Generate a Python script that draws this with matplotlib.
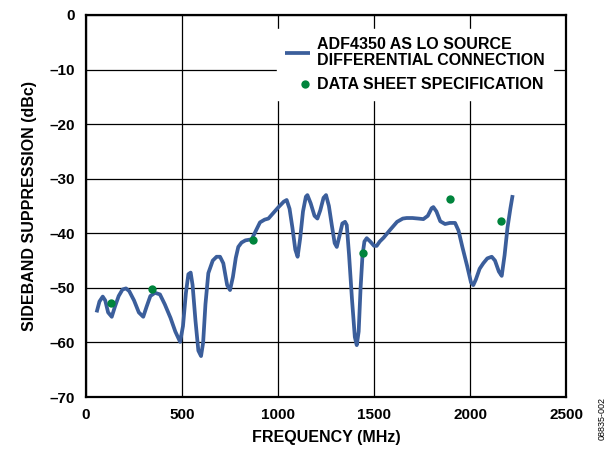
import matplotlib
matplotlib.use('Agg')
import matplotlib.pyplot as plt
from matplotlib.legend_handler import HandlerLine2D

plt.rcParams['font.family'] = ['Liberation Sans', 'DejaVu Sans']
plt.rcParams['font.weight'] = 'bold'
plt.rcParams['axes.labelweight'] = 'bold'

# ADF4350 as LO source, differential connection
freq = [55, 70, 87, 100, 115, 134, 150, 170, 190, 208, 225, 250, 275, 298,
        315, 335, 359, 385, 410, 440, 465, 490, 505, 520, 533, 545, 555, 570,
        585, 599, 610, 622, 637, 660, 680, 698, 715, 735, 750, 765, 780, 793,
        810, 830, 863, 885, 906, 930, 950, 975, 1000, 1030, 1045, 1060, 1075,
        1090, 1102, 1115, 1130, 1145, 1153, 1170, 1190, 1205, 1220, 1237, 1250,
        1265, 1280, 1295, 1306, 1320, 1335, 1349, 1358, 1370, 1385, 1400, 1410,
        1420, 1430, 1440, 1450, 1462, 1480, 1500, 1514, 1530, 1550, 1583, 1620,
        1650, 1670, 1700, 1730, 1757, 1780, 1800, 1809, 1825, 1845, 1870, 1895,
        1922, 1940, 1960, 1985, 2005, 2017, 2030, 2050, 2069, 2090, 2113, 2130,
        2150, 2165, 2180, 2195, 2210, 2222]
suppression = [-54.5, -52.5, -51.6, -52.3, -54.5, -55.3, -53.5, -51.5, -50.3,
               -50.1, -50.6, -52.3, -54.5, -55.3, -53.5, -51.5, -50.9, -51.2,
               -53.0, -55.5, -58.0, -59.9, -57.0, -51.0, -47.5, -47.2, -49.5,
               -56.0, -61.5, -62.5, -60.0, -53.0, -47.3, -45.0, -44.3, -44.3,
               -45.5, -49.5, -50.4, -48.0, -44.5, -42.5, -41.7, -41.3, -41.1,
               -39.5, -38.0, -37.5, -37.3, -36.3, -35.3, -34.2, -33.9, -35.5,
               -39.0, -43.0, -44.3, -41.0, -36.0, -33.3, -33.0, -34.5, -36.8,
               -37.3, -35.8, -33.5, -33.0, -35.0, -38.5, -41.8, -42.5, -40.5,
               -38.2, -37.9, -38.5, -44.0, -52.0, -59.0, -60.5, -58.0, -50.0,
               -44.0, -41.5, -40.9, -41.5, -42.3, -42.3, -41.5, -40.8, -39.4,
               -37.9, -37.3, -37.2, -37.2, -37.3, -37.4, -36.8, -35.4, -35.2,
               -36.0, -37.8, -38.3, -38.1, -38.1, -39.5, -42.5, -46.0, -49.0,
               -49.5, -48.5, -46.5, -45.5, -44.6, -44.3, -45.0, -47.0, -47.8,
               -44.0, -39.0, -35.5, -33.0]

# data sheet specification points
spec_freq = [129, 346, 868, 1444, 1896, 2160]
spec_val = [-52.7, -50.3, -41.2, -43.6, -33.8, -37.7]

x_ticks = [0, 500, 1000, 1500, 2000, 2500]
y_ticks = [0, -10, -20, -30, -40, -50, -60, -70]


class RightDot(HandlerLine2D):
    '''Puts the legend marker at the right end of the handle box.'''
    def get_xdata(self, legend, xdescent, ydescent, width, height, fontsize):
        x = -xdescent + width - 0.3 * fontsize
        return [x], [x]


def main():
    fig = plt.figure(figsize=(6.11, 4.49), dpi=100)
    ax = fig.add_axes([0.1408, 0.1158, 0.7856, 0.8508])

    ax.plot(freq, suppression, color='#3b5e9b', lw=2.7,
            solid_joinstyle='round', solid_capstyle='butt',
            label='ADF4350 AS LO SOURCE\nDIFFERENTIAL CONNECTION', zorder=3)
    dots, = ax.plot(spec_freq, spec_val, 'o', color='#00843c', ms=6,
                    mec='none', label='DATA SHEET SPECIFICATION', zorder=4)

    ax.set_xlim(0, 2500)
    ax.set_ylim(-70, 0)
    ax.set_xticks(x_ticks)
    ax.set_yticks(y_ticks)
    ax.set_yticklabels([str(v).replace('-', '\u2013') for v in y_ticks])
    ax.tick_params(length=0, labelsize=11, pad=8)
    ax.grid(True, color='black', lw=0.9)
    ax.set_axisbelow(True)
    for s in ax.spines.values():
        s.set_linewidth(1.6)

    ax.set_xlabel('FREQUENCY (MHz)', fontsize=11.5, labelpad=6)
    ax.set_ylabel('SIDEBAND SUPPRESSION (dBc)', fontsize=11.5, labelpad=9)

    leg = ax.legend(loc='upper left', bbox_to_anchor=(0.397, 0.963),
                    frameon=True, fancybox=False, facecolor='white',
                    edgecolor='white', framealpha=1, fontsize=11.5,
                    handlelength=1.6, handletextpad=0.45, borderpad=0.5,
                    labelspacing=0.6, borderaxespad=0,
                    handler_map={dots: RightDot()})
    for t in leg.get_texts():
        t.set_linespacing(1.05)

    fig.text(0.985, 0.069, '08835-002', rotation=90, fontsize=6.5,
             fontweight='normal', ha='center', va='center')

    fig.savefig('out.png', dpi=100)


if __name__ == '__main__':
    main()
